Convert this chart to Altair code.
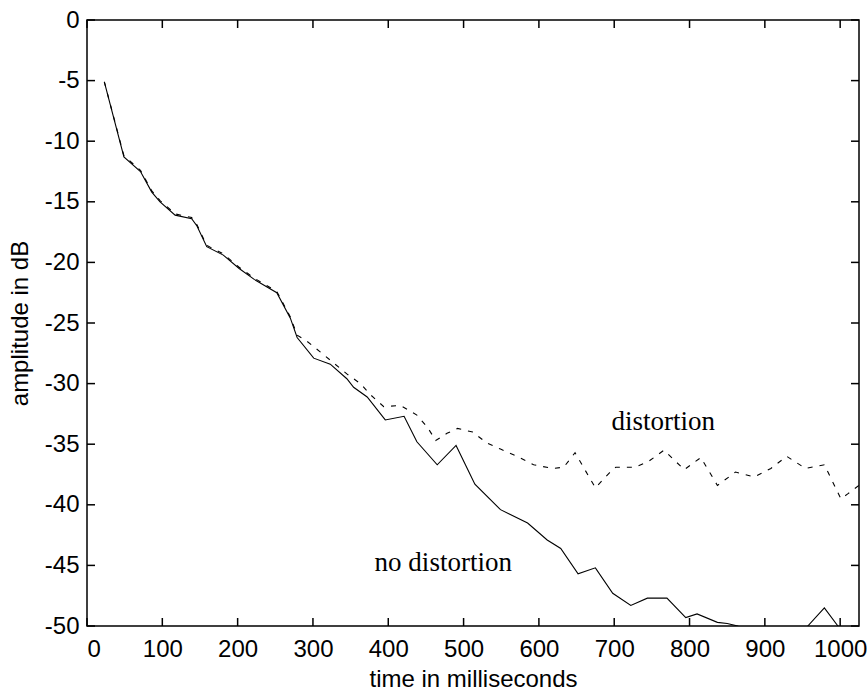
import altair as alt
import pandas as pd

# ---- data ----
t_nodist = [23, 49, 71, 86, 97, 117, 139, 146, 159, 181, 202, 222, 252, 270, 279, 301, 323, 345,
            354, 372, 396, 421, 438, 465, 490, 515, 549, 585, 611, 629, 652, 675, 698, 722, 744,
            770, 795, 810, 837, 850, 864, 900, 940, 957, 979, 997, 1025]
a_nodist = [-5.1, -11.3, -12.5, -14.2, -15.0, -16.1, -16.4, -17.0, -18.7, -19.4, -20.5, -21.4,
            -22.5, -24.6, -26.2, -27.9, -28.4, -29.6, -30.3, -31.1, -33.0, -32.7, -34.8, -36.7,
            -35.1, -38.3, -40.4, -41.5, -42.9, -43.6, -45.7, -45.2, -47.3, -48.3, -47.7, -47.7,
            -49.3, -49.0, -49.7, -49.8, -50.0, -51.5, -51.5, -50.0, -48.5, -50.0, -51.5]

t_dist = [23, 49, 71, 86, 97, 117, 139, 146, 159, 181, 202, 222, 252, 270, 279, 292, 310, 345,
          363, 376, 394, 416, 438, 452, 463, 478, 492, 512, 531, 549, 571, 593, 618, 633, 648,
          675, 693, 702, 728, 746, 766, 793, 815, 837, 861, 886, 908, 929, 954, 979, 1001, 1010,
          1025]
a_dist = [-5.1, -11.2, -12.4, -14.1, -14.9, -16.0, -16.3, -16.9, -18.6, -19.3, -20.4, -21.3,
          -22.4, -24.5, -26.0, -26.5, -27.4, -29.2, -30.0, -30.9, -31.9, -31.8, -32.6, -33.6,
          -34.7, -34.1, -33.7, -34.0, -34.9, -35.4, -36.0, -36.7, -37.0, -36.9, -35.7, -38.6,
          -37.4, -36.9, -36.9, -36.4, -35.5, -37.1, -36.1, -38.4, -37.3, -37.7, -37.0, -36.0,
          -37.0, -36.7, -39.5, -39.1, -38.4]

labels = ["distortion", "no distortion"]
label_t = [765, 473]
label_a = [-33.8, -45.5]

x_ticks = [0, 100, 200, 300, 400, 500, 600, 700, 800, 900, 1000]
y_ticks = [0, -5, -10, -15, -20, -25, -30, -35, -40, -45, -50]

# ---- chart ----
W, H = 772, 606
TICK = 8
TICK_COLOR = "black"

df_nd = pd.DataFrame({"t": t_nodist, "a": a_nodist})
df_d = pd.DataFrame({"t": t_dist, "a": a_dist})
df_lab = pd.DataFrame({"label": labels, "t": label_t, "a": label_a})
df_xt = pd.DataFrame({"t": x_ticks})
df_yt = pd.DataFrame({"a": y_ticks})

xs = alt.Scale(domain=[0, 1025], nice=False, zero=False)
ys = alt.Scale(domain=[-50, 0], nice=False, zero=False)

x_axis = alt.Axis(values=x_ticks, title="time in milliseconds", tickSize=0, domain=False,
                  grid=False, labelPadding=11, titlePadding=6,
                  labelExpr="'' + datum.value")
y_axis = alt.Axis(values=y_ticks, title="amplitude in dB", tickSize=0, domain=False,
                  grid=False, labelPadding=8, titlePadding=12,
                  labelExpr="'' + datum.value")

line_nd = alt.Chart(df_nd).mark_line(color="black", strokeWidth=1.1, clip=True).encode(
    x=alt.X("t:Q", scale=xs, axis=x_axis), y=alt.Y("a:Q", scale=ys, axis=y_axis))
line_d = alt.Chart(df_d).mark_line(color="black", strokeWidth=1.1, strokeDash=[5, 7],
                                   clip=True).encode(
    x=alt.X("t:Q", scale=xs), y=alt.Y("a:Q", scale=ys))

rs = dict(color=TICK_COLOR, strokeWidth=1.5)
xt_bottom = alt.Chart(df_xt).mark_rule(**rs).encode(
    x=alt.X("t:Q", scale=xs), y=alt.value(H), y2=alt.value(H - TICK))
xt_top = alt.Chart(df_xt).mark_rule(**rs).encode(
    x=alt.X("t:Q", scale=xs), y=alt.value(0), y2=alt.value(TICK))
yt_left = alt.Chart(df_yt).mark_rule(**rs).encode(
    y=alt.Y("a:Q", scale=ys), x=alt.value(0), x2=alt.value(TICK))
yt_right = alt.Chart(df_yt).mark_rule(**rs).encode(
    y=alt.Y("a:Q", scale=ys), x=alt.value(W), x2=alt.value(W - TICK))

text = alt.Chart(df_lab).mark_text(font="Liberation Serif", fontSize=27, color="black",
                                   align="center", baseline="alphabetic").encode(
    x=alt.X("t:Q", scale=xs), y=alt.Y("a:Q", scale=ys), text="label:N")

chart = alt.layer(line_nd, line_d, xt_bottom, xt_top, yt_left, yt_right, text).properties(
    width=W, height=H,
    autosize=alt.AutoSizeParams(type="none"),
    padding={"left": 87, "top": 20, "right": 8, "bottom": 68},
    background="white",
).configure_view(stroke="black", strokeWidth=1.5).configure_axis(
    labelFont="Liberation Sans", labelFontSize=24, labelColor="black",
    titleFont="Liberation Sans", titleFontSize=24, titleColor="black", titleFontWeight="normal",
)

chart.save("out.html", embed_options={"renderer": "svg", "actions": False})
